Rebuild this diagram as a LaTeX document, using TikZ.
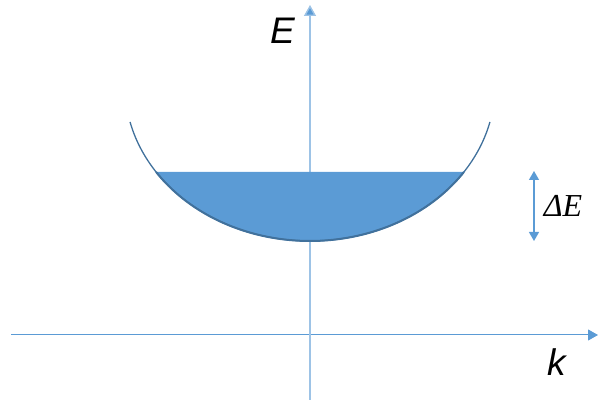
\documentclass[tikz,border=0pt]{standalone}
\usepackage{fontspec}
\setmainfont{Liberation Sans}
\newfontfamily\serifit{Liberation Serif}
\usetikzlibrary{arrows.meta}
\definecolor{axisblue}{HTML}{5B9BD5}
\definecolor{lightaxis}{HTML}{9DC3E6}
\definecolor{curveblue}{HTML}{41719C}
\definecolor{fillblue}{HTML}{5B9BD5}
\tikzset{
  axisline/.style={draw=axisblue, line width=1pt, -{Triangle[width=11pt,length=10pt]}},
  vaxisline/.style={draw=lightaxis, line width=1.4pt, -{Triangle[width=12pt,length=11pt,fill=axisblue]}},
  dearrow/.style={draw=axisblue, line width=1.3pt, {Triangle[width=10pt,length=9pt]}-{Triangle[width=10pt,length=9pt]}},
  biglabel/.style={font=\fontsize{37}{40}\selectfont\itshape, inner sep=0pt},
  delabel/.style={font=\fontsize{32}{34}\selectfont\serifit\itshape, inner sep=0pt}
}
\begin{document}
\begin{tikzpicture}[x=1pt,y=-1pt]
\useasboundingbox (0,0) rectangle (598,403);
% axes
\coordinate (hstart) at (11,335);
\coordinate (hend) at (598,335);
\coordinate (vstart) at (310,400);
\coordinate (vend) at (310,5);
\draw[axisline] (hstart) -- (hend);
\draw[vaxisline] (vstart) -- (vend);
% filled region
\fill[fillblue] plot[domain=33.7:146.3, samples=120] ({310+185*cos(\x)}, {86+155*sin(\x)}) -- cycle;
\draw[curveblue, line width=2pt] plot[domain=33.7:146.3, samples=120] ({310+185*cos(\x)}, {86+155*sin(\x)});
% curve
\draw[curveblue, line width=1.3pt] plot[domain=13.4:166.6, samples=150] ({310+185*cos(\x)}, {86+155*sin(\x)});
% delta E arrow
\coordinate (detop) at (534,171);
\coordinate (debot) at (534,241);
\draw[dearrow] (debot) -- (detop);
% labels
\node[biglabel] (E) at (283,31) {E};
\node[biglabel] (k) at (557,362) {k};
\node[delabel] (dE) at (563,206) {ΔE};
\end{tikzpicture}
\end{document}
